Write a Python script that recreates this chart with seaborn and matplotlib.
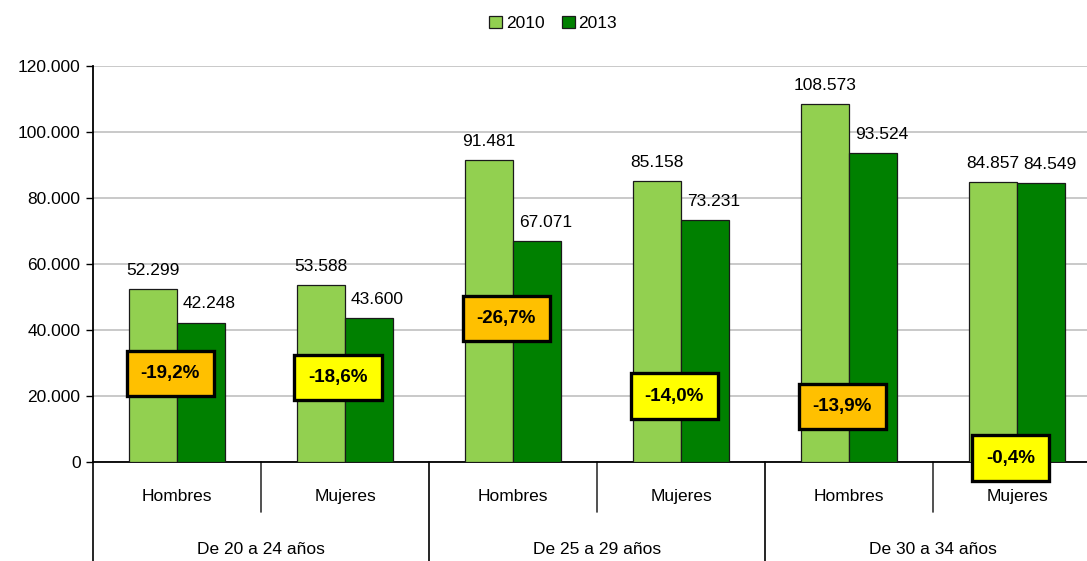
import numpy as np
import pandas as pd
import matplotlib
matplotlib.use("Agg")
import matplotlib.pyplot as plt
import seaborn as sns

# datos
grupos = ["De 20 a 24 años", "De 25 a 29 años", "De 30 a 34 años"]
sexos = ["Hombres", "Mujeres"]
anios = ["2010", "2013"]
valores_2010 = [52299, 53588, 91481, 85158, 108573, 84857]
valores_2013 = [42248, 43600, 67071, 73231, 93524, 84549]
y_ticks = [0, 20000, 40000, 60000, 80000, 100000, 120000]

# posicion vertical de las cajas de variacion (solo maquetacion)
caja_y = [26700, 25500, 43600, 20000, 16700, 1200]

colores = ["#92D050", "#008000"]
colores_caja = ["#FFC000", "#FFFF00"]

cats = [f"{g}|{s}" for g in grupos for s in sexos]
df = pd.DataFrame({
    "cat": cats * 2,
    "anio": [anios[0]] * 6 + [anios[1]] * 6,
    "valor": valores_2010 + valores_2013,
})

sns.set_style("white")
plt.rcParams["font.family"] = ["Liberation Sans", "DejaVu Sans"]
plt.rcParams["text.color"] = "black"
plt.rcParams["ytick.color"] = "black"
plt.rcParams["ytick.labelcolor"] = "black"

fig = plt.figure(figsize=(10.87, 5.61), dpi=100)
ax = fig.add_axes([93 / 1087, 99 / 561, 1008 / 1087, 396 / 561])

sns.barplot(data=df, x="cat", y="valor", hue="anio", order=cats,
            palette=colores, width=0.575, gap=0, edgecolor="#1a1a1a",
            linewidth=0.9, saturation=1, ax=ax, zorder=3)

ax.set_ylim(0, 120000)
ax.set_xlim(-0.5, 5.5)
ax.set_yticks(y_ticks)
ax.set_yticklabels([f"{v:,}".replace(",", ".") for v in y_ticks], fontsize=12.5)
ax.yaxis.grid(True, color="#c0c0c0", linewidth=1.2, zorder=0)
ax.set_axisbelow(True)
ax.tick_params(axis="y", left=True, length=5, width=1, color="black", pad=4)
ax.set_xticks([])
ax.set_xlabel("")
ax.set_ylabel("")
for s in ["top", "right"]:
    ax.spines[s].set_visible(False)
ax.spines["left"].set_color("black")
ax.spines["left"].set_linewidth(1.3)
ax.spines["bottom"].set_color("black")
ax.spines["bottom"].set_linewidth(1.3)

# etiquetas de valor (2013 algo desplazadas a la derecha)
for cont, dx in zip(ax.containers, [0, 6]):
    for b in cont:
        h = b.get_height()
        ax.annotate(f"{int(round(h)):,}".replace(",", "."),
                    (b.get_x() + b.get_width() / 2, h),
                    xytext=(dx, 8), textcoords="offset points",
                    ha="center", va="bottom", fontsize=12.5)

# cajas de variacion
for i, (a, b) in enumerate(zip(valores_2010, valores_2013)):
    pct = (b - a) / a * 100
    txt = f"{pct:.1f}%".replace(".", ",")
    ax.text(i - 0.04, caja_y[i], txt, ha="center", va="center",
            fontsize=13.5, fontweight="bold", zorder=5,
            bbox=dict(boxstyle="square,pad=0.75", fc=colores_caja[i % 2],
                      ec="black", lw=2.4))

# eje x de dos niveles
trans = ax.get_xaxis_transform()
for x in [-0.5, 1.5, 3.5, 5.5]:
    ax.plot([x, x], [0, -0.26], color="black", lw=1.2, transform=trans, clip_on=False)
for x in [0.5, 2.5, 4.5]:
    ax.plot([x, x], [0, -0.126], color="#333333", lw=1.2, transform=trans, clip_on=False)
for i, c in enumerate(cats):
    ax.text(i, -0.088, c.split("|")[1], ha="center", va="center",
            fontsize=12.5, transform=trans)
for j, g in enumerate(grupos):
    ax.text(2 * j + 0.5, -0.22, g, ha="center", va="center",
            fontsize=12.5, transform=trans)

ax.legend(loc="upper center", bbox_to_anchor=(553 / 1087, 1.0), bbox_transform=fig.transFigure,
          ncol=2, frameon=False, fontsize=12.5, handlelength=0.75, handleheight=0.75,
          handletextpad=0.2, columnspacing=1.0, borderaxespad=0.5)
for h in ax.get_legend().legend_handles:
    h.set_edgecolor("#1a1a1a")

fig.savefig("out.png", dpi=100)
